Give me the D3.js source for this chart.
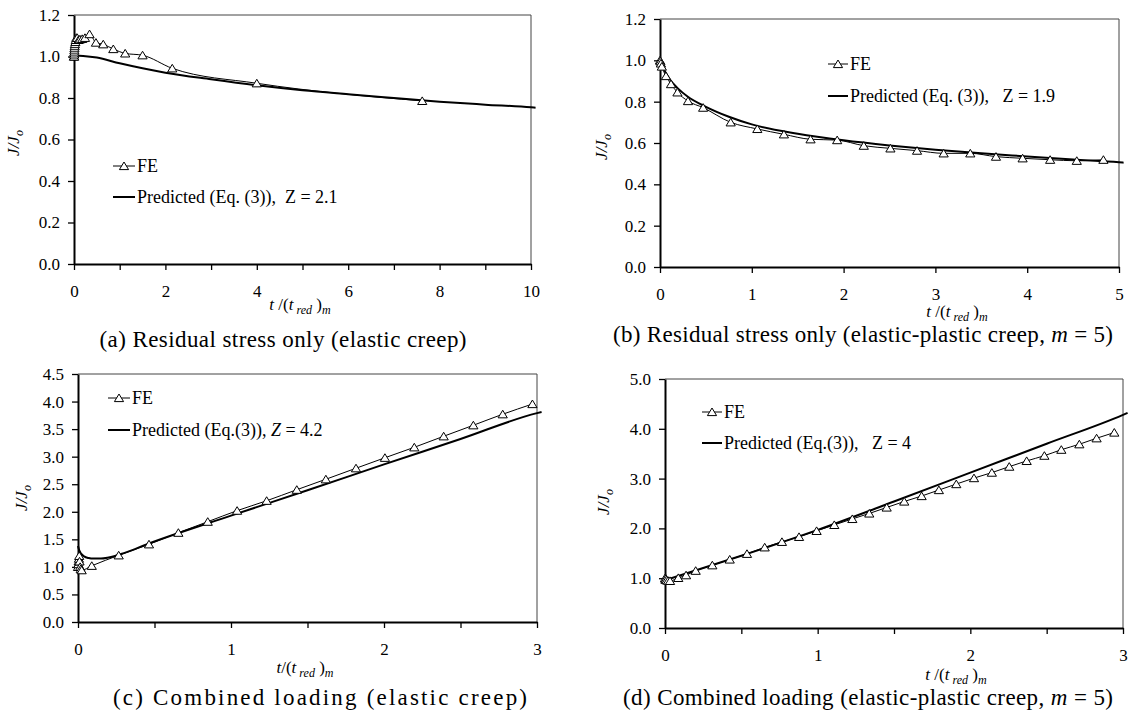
<!DOCTYPE html>
<html>
<head>
<meta charset="utf-8">
<script src="https://cdn.jsdelivr.net/npm/d3@7"></script>
</head>
<body style="margin:0;background:#fff">
<script>
// (a) residual stress only, elastic creep
var aFeT = [0, 0.002, 0.004, 0.006, 0.008, 0.01, 0.015, 0.02, 0.03, 0.04, 0.05, 0.07, 0.1, 0.13, 0.18, 0.24, 0.34, 0.48, 0.64, 0.86, 1.12, 1.5, 2.15, 4.0, 7.62];
var aFeJ = [1.0, 1.0, 1.01, 1.02, 1.03, 1.04, 1.05, 1.06, 1.07, 1.08, 1.09, 1.09, 1.08, 1.083, 1.085, 1.09, 1.108, 1.067, 1.059, 1.036, 1.015, 1.006, 0.943, 0.871, 0.786];
var aPredT = [0, 0.2, 0.5, 1, 1.5, 2, 3, 4, 5, 6, 7, 8, 9, 10, 10.1];
var aPredJ = [1.005, 1.003, 0.995, 0.967, 0.943, 0.922, 0.89, 0.861, 0.837, 0.818, 0.80, 0.782, 0.768, 0.755, 0.753];

// (b) residual stress only, elastic-plastic creep
var bFeT = [0, 0.005, 0.01, 0.02, 0.065, 0.12, 0.19, 0.305, 0.47, 0.77, 1.06, 1.35, 1.64, 1.93, 2.22, 2.51, 2.80, 3.09, 3.38, 3.66, 3.95, 4.25, 4.54, 4.83];
var bFeJ = [1.0, 0.995, 0.985, 0.97, 0.924, 0.885, 0.845, 0.803, 0.771, 0.70, 0.668, 0.642, 0.618, 0.614, 0.587, 0.574, 0.563, 0.55, 0.55, 0.534, 0.526, 0.519, 0.514, 0.519];
var bPredT = [0, 0.02, 0.05, 0.1, 0.2, 0.3, 0.5, 0.75, 1, 1.5, 2, 2.5, 3, 3.5, 4, 4.5, 5, 5.05];
var bPredJ = [1.0, 0.978, 0.95, 0.912, 0.862, 0.825, 0.775, 0.727, 0.69, 0.645, 0.613, 0.588, 0.567, 0.55, 0.535, 0.52, 0.507, 0.505];

// (c) combined loading, elastic creep
var cFeT = [0, 0.002, 0.004, 0.006, 0.008, 0.01, 0.014, 0.018, 0.024, 0.09, 0.266, 0.464, 0.656, 0.848, 1.04, 1.233, 1.43, 1.62, 1.817, 2.006, 2.198, 2.39, 2.584, 2.776, 2.97];
var cFeJ = [1.0, 1.05, 1.1, 1.15, 1.2, 1.1, 1.0, 0.96, 0.94, 1.02, 1.21, 1.41, 1.62, 1.82, 2.02, 2.20, 2.40, 2.59, 2.79, 2.98, 3.17, 3.37, 3.57, 3.77, 3.955];
var cPredT = [0, 0.005, 0.01, 0.02, 0.04, 0.07, 0.1, 0.15, 0.2, 0.3, 0.46, 1, 1.5, 2, 2.5, 3, 3.03];
var cPredJ = [1.38, 1.33, 1.29, 1.24, 1.19, 1.16, 1.15, 1.15, 1.17, 1.25, 1.42, 1.93, 2.39, 2.86, 3.32, 3.79, 3.81];

// (d) combined loading, elastic-plastic creep
var dFeT = [0, 0.003, 0.006, 0.01, 0.02, 0.033, 0.087, 0.138, 0.201, 0.31, 0.424, 0.537, 0.653, 0.766, 0.878, 0.993, 1.109, 1.227, 1.338, 1.452, 1.567, 1.681, 1.794, 1.908, 2.024, 2.141, 2.255, 2.369, 2.485, 2.596, 2.714, 2.827, 2.943];
var dFeJ = [1.0, 0.97, 0.99, 0.96, 0.95, 0.946, 1.006, 1.06, 1.15, 1.26, 1.376, 1.49, 1.62, 1.73, 1.83, 1.95, 2.07, 2.19, 2.30, 2.42, 2.54, 2.65, 2.77, 2.89, 3.01, 3.12, 3.24, 3.355, 3.46, 3.58, 3.69, 3.81, 3.925];
var dPredT = [0, 0.5, 1, 1.5, 2, 2.5, 3, 3.03];
var dPredJ = [0.96, 1.45, 1.97, 2.54, 3.12, 3.70, 4.28, 4.32];

// tick values
var aXTicks = [0, 1, 2, 3, 4, 5, 6, 7, 8, 9, 10];
var bXTicks = [0, 1, 2, 3, 4, 5];
var cdXTicks = [0, 0.5, 1, 1.5, 2, 2.5, 3];
var abYTicks = [0, 0.2, 0.4, 0.6, 0.8, 1.0, 1.2];
var cYTicks = [0, 0.5, 1, 1.5, 2, 2.5, 3, 3.5, 4, 4.5];
var dYTicks = [0, 1, 2, 3, 4, 5];

var captions = [
    ["(a) Residual stress only (elastic creep)"],
    ["(b) Residual stress only (elastic-plastic creep, ", "m", " = 5)"],
    ["(c) Combined loading (elastic creep)"],
    ["(d) Combined loading (elastic-plastic creep, ", "m", " = 5)"]
];
var predLabels = ["Predicted (Eq. (3)),\u00a0\u00a0", "Predicted (Eq. (3)),\u00a0\u00a0\u00a0", "Predicted (Eq.(3)),\u00a0", "Predicted (Eq.(3)),\u00a0\u00a0\u00a0"];
var zLabels = [" = 2.1", " = 1.9", " = 4.2", " = 4"];

var serif = "'Liberation Serif'";

var svg = d3.select("body").append("svg")
    .attr("width", 1131)
    .attr("height", 717);

var tri = "M0,-4L4.6,3.6L-4.6,3.6Z";

//panel layouts
var panels = [
    {l: 74, r: 531, t: 15, b: 264, xMax: 10, yMax: 1.2, xt: aXTicks, yt: abYTicks,
     xl: function(d){ return d % 2 === 0 ? d : ""; }, fe: [aFeT, aFeJ], pr: [aPredT, aPredJ],
     leg: [113, 135, 166, 197], ylab: [19, 143], xlab: [300, 310, "t /("], cap: [283, 347], capW: 367, zit: false},
    {l: 660, r: 1119, t: 19, b: 267, xMax: 5, yMax: 1.2, xt: bXTicks, yt: abYTicks,
     xl: function(d){ return d; }, fe: [bFeT, bFeJ], pr: [bPredT, bPredJ],
     leg: [828, 848, 64, 96], ylab: [607, 147], xlab: [957, 317, "t /("], cap: [863, 342], capW: 500, zit: false},
    {l: 78, r: 537, t: 374, b: 622, xMax: 3, yMax: 4.5, xt: cdXTicks, yt: cYTicks,
     xl: function(d){ return d % 1 === 0 ? d : ""; }, fe: [cFeT, cFeJ], pr: [cPredT, cPredJ],
     leg: [108, 130, 398, 430], ylab: [27, 498], xlab: [305, 673, "t/("], cap: [320, 705], capW: 414, zit: true},
    {l: 665, r: 1123, t: 379, b: 628, xMax: 3, yMax: 5, xt: cdXTicks, yt: dYTicks,
     xl: function(d){ return d % 1 === 0 ? d : ""; }, fe: [dFeT, dFeJ], pr: [dPredT, dPredJ],
     leg: [702, 722, 412, 443], ylab: [609, 502], xlab: [956, 680, "t /("], cap: [868, 705], capW: 490, zit: false}
];

panels.forEach(function(p, i){
    var x = d3.scaleLinear().domain([0, p.xMax]).range([p.l, p.r]);
    var y = d3.scaleLinear().domain([0, p.yMax]).range([p.b, p.t]);
    var g = svg.append("g");

    //frame top and right
    g.append("path")
        .attr("d", "M" + p.l + "," + p.t + "H" + p.r + "V" + p.b)
        .attr("fill", "none").attr("stroke", "#444").attr("stroke-width", 1);

    var xAxis = g.append("g")
        .attr("transform", "translate(0," + p.b + ")")
        .call(d3.axisBottom(x).tickValues(p.xt).tickFormat(p.xl).tickSize(6).tickSizeOuter(0).tickPadding(15));
    var yAxis = g.append("g")
        .attr("transform", "translate(" + p.l + ",0)")
        .call(d3.axisLeft(y).tickValues(p.yt).tickFormat(d3.format(".1f")).tickSize(6).tickSizeOuter(0).tickPadding(8));
    [xAxis, yAxis].forEach(function(ax){
        ax.attr("font-family", null).attr("font-size", null);
        ax.select(".domain").attr("stroke", "#000").attr("stroke-width", 2);
        ax.selectAll(".tick line").attr("stroke", "#000").attr("stroke-width", 1.3);
        ax.selectAll(".tick text")
            .style("font-family", serif).style("font-size", "17px").attr("fill", "#000");
    });

    var line = d3.line()
        .x(function(d){ return x(d[0]); })
        .y(function(d){ return y(d[1]); })
        .curve(d3.curveMonotoneX);

    var fe = p.fe[0].map(function(t, k){ return [t, p.fe[1][k]]; });
    var pr = p.pr[0].map(function(t, k){ return [t, p.pr[1][k]]; });

    g.append("path").datum(fe)
        .attr("d", line).attr("fill", "none").attr("stroke", "#000").attr("stroke-width", 1);
    g.append("path").datum(pr)
        .attr("d", line).attr("fill", "none").attr("stroke", "#000").attr("stroke-width", 2);

    g.selectAll(".mk").data(fe).enter().append("path")
        .attr("class", "mk")
        .attr("d", tri)
        .attr("transform", function(d){ return "translate(" + x(d[0]) + "," + y(d[1]) + ")"; })
        .attr("fill", "#fff").attr("stroke", "#000").attr("stroke-width", 1);

    //legend
    var L = p.leg;
    g.append("line").attr("x1", L[0]).attr("x2", L[1]).attr("y1", L[2]).attr("y2", L[2])
        .attr("stroke", "#000").attr("stroke-width", 1);
    g.append("path").attr("d", tri)
        .attr("transform", "translate(" + (L[0] + L[1]) / 2 + "," + L[2] + ")")
        .attr("fill", "#fff").attr("stroke", "#000");
    g.append("text").attr("x", L[1] + 2).attr("y", L[2] + 6)
        .style("font-family", serif).style("font-size", "18px").text("FE");
    g.append("line").attr("x1", L[0]).attr("x2", L[1]).attr("y1", L[3]).attr("y2", L[3])
        .attr("stroke", "#000").attr("stroke-width", 2);
    var pt = g.append("text").attr("x", L[1] + 2).attr("y", L[3] + 6)
        .style("font-family", serif).style("font-size", "18px");
    pt.append("tspan").text(predLabels[i]);
    pt.append("tspan").style("font-style", p.zit ? "italic" : "normal").text("Z");
    pt.append("tspan").text(zLabels[i]);

    //y axis title
    var yt = g.append("text")
        .attr("transform", "translate(" + p.ylab[0] + "," + p.ylab[1] + ") rotate(-90)")
        .attr("text-anchor", "middle")
        .style("font-family", serif).style("font-size", "17px").style("font-style", "italic");
    yt.append("tspan").text("J/J");
    yt.append("tspan").style("font-size", "12px").attr("dy", 4).text("o");

    //x axis title
    var xt = g.append("text")
        .attr("x", p.xlab[0]).attr("y", p.xlab[1])
        .attr("text-anchor", "middle")
        .style("font-family", serif).style("font-size", "17px");
    xt.append("tspan").style("font-style", "italic").text("t");
    xt.append("tspan").text(p.xlab[2].slice(1));
    xt.append("tspan").style("font-style", "italic").text("t");
    xt.append("tspan").style("font-style", "italic").style("font-size", "12px").attr("dy", 4).text("\u00a0red");
    xt.append("tspan").attr("dy", -4).text("\u00a0)");
    xt.append("tspan").style("font-style", "italic").style("font-size", "12px").attr("dy", 4).text("m");

    //caption
    var ct = g.append("text")
        .attr("x", p.cap[0]).attr("y", p.cap[1])
        .attr("text-anchor", "middle")
        .style("font-family", serif).style("font-size", "23px")
        .attr("textLength", p.capW).attr("lengthAdjust", "spacing");
    captions[i].forEach(function(s, k){
        ct.append("tspan").style("font-style", k === 1 ? "italic" : "normal").text(s);
    });
});
</script>
</body>
</html>
